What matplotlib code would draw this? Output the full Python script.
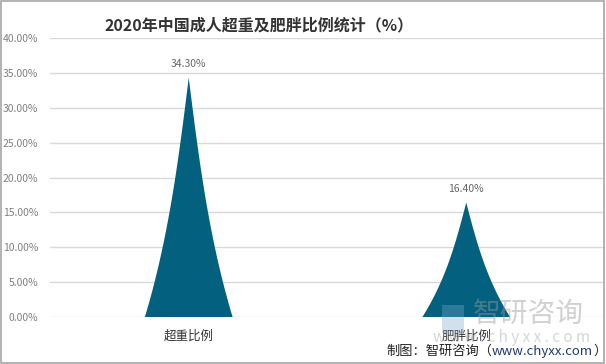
import matplotlib
matplotlib.use('Agg')
import matplotlib.pyplot as plt
import numpy as np
from matplotlib.patches import Polygon, Rectangle
from matplotlib.ticker import FuncFormatter

plt.rcParams['font.family'] = ['Noto Sans CJK SC', 'DejaVu Sans']

# データ
categories = ['超重比例', '肥胖比例']
values = [34.30, 16.40]
yticks = [0, 5, 10, 15, 20, 25, 30, 35, 40]

spike_color = '#03617f'
half_w = 0.158

fig = plt.figure(figsize=(6.06, 3.64), dpi=100)
ax = fig.add_axes([50 / 606, 1 - 317 / 364, 555 / 606, 279 / 364])

# 尖った三角形（pictorialBar 風）: 形状だけ関数で作り、高さは値から
f = np.linspace(0, 1, 100)
prof = 0.68 * (1 - f) + 0.32 * (1 - f) ** 3
for i, v in enumerate(values):
    xs = np.concatenate([i - half_w * prof, (i + half_w * prof)[::-1]])
    ys = np.concatenate([v * f, (v * f)[::-1]])
    ax.add_patch(Polygon(np.column_stack([xs, ys]), closed=True,
                         facecolor=spike_color, edgecolor='none', zorder=3))
    ax.text(i, v + 1.2, f'{v:.2f}%', ha='center', va='bottom',
            fontsize=7.5, color='#666666', zorder=4)

ax.set_xlim(-0.5, 1.5)
ax.set_ylim(0, 40)
ax.set_yticks(yticks)
ax.yaxis.set_major_formatter(FuncFormatter(lambda y, _: f'{y:.2f}%'))
ax.set_xticks(range(len(categories)))
ax.set_xticklabels(categories, fontsize=9, color='#333333')
ax.tick_params(axis='y', length=0, pad=8.5, labelsize=7.5, labelcolor='#808080')
ax.tick_params(axis='x', length=0, pad=9)
ax.grid(axis='y', color='#d9d9d9', linewidth=1)
ax.set_axisbelow(True)
for s in ax.spines.values():
    s.set_visible(False)

fig.text(259 / 606, 1 - 25 / 364, '2020年中国成人超重及肥胖比例统计（%）',
         ha='center', va='center', fontsize=11.5, fontweight='bold',
         color='#333333')

# ウォーターマーク
fig.text(528 / 606, 1 - 314 / 364, '智研咨询', ha='center', va='center',
         fontsize=20, color='#9a9a9a', alpha=0.45, zorder=5)
fig.text(512 / 606, 1 - 337 / 364, 'w w w . c h y x x . c o m', ha='center',
         va='center', fontsize=11, color='#9a9a9a', alpha=0.4, zorder=5)
fig.patches.append(Rectangle((442 / 606, 1 - 333 / 364), 22 / 606, 28 / 364,
                             transform=fig.transFigure, facecolor='#7fa6c9',
                             alpha=0.35, edgecolor='none', zorder=5))

# 出典
t1 = fig.text(386 / 606, 1 - 351 / 364, '制图：智研咨询（', ha='left',
              va='center', fontsize=9.5, color='#222222')
t2 = ax.annotate('www.chyxx.com', xy=(1, 0.5), xycoords=t1, va='center',
                 ha='left', fontsize=9.5, color='#1f3a6e',
                 annotation_clip=False)
ax.annotate('）', xy=(1, 0.5), xycoords=t2, va='center', ha='left',
            fontsize=9.5, color='#222222', annotation_clip=False)

# 外枠
fig.patches.append(Rectangle((0.001, 0.002), 0.995, 0.996,
                             transform=fig.transFigure, fill=False,
                             edgecolor='#a6a6a6', linewidth=1.2))

fig.savefig('out.png', dpi=100)
